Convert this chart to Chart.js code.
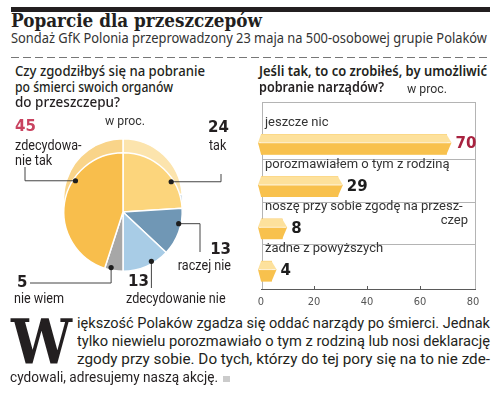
<!DOCTYPE html>
<html lang="pl">
<head>
<meta charset="utf-8">
<title>Poparcie dla przeszczepów</title>
<script src="https://cdn.jsdelivr.net/npm/chart.js@4"></script>
<style>
  body { margin: 0; width: 500px; height: 393px; position: relative; background: #fff; overflow: hidden; }
  .t { position: absolute; white-space: nowrap; transform-origin: 0 0; line-height: normal; z-index: 2; }
  .m { display: inline-block; width: 0; height: 0; vertical-align: baseline; }
  canvas { position: absolute; }
</style>
</head>
<body>
<div style="position:absolute;left:11px;top:7px;width:479px;height:5px;background:#231f20"></div>
<div style="position:absolute;left:11px;top:57px;width:479px;height:1px;background:repeating-linear-gradient(90deg,#777 0 8px,transparent 8px 12px)"></div>
<canvas id="pie" width="250" height="210" style="left:0;top:105px"></canvas>
<canvas id="bars" width="250" height="220" style="left:250px;top:95px"></canvas>
<div style="position:absolute;left:223px;top:376px;width:7px;height:6px;background:#cbcbcb"></div>

<script>
// left: pie, clockwise from 12 o'clock
const pieLabels = ['tak', 'raczej nie', 'zdecydowanie nie', 'nie wiem', 'zdecydowanie tak'];
const pieValues = [24, 13, 13, 5, 45];
const pieLines = [['tak'], ['raczej nie'], ['zdecydowanie nie'], ['nie wiem'], ['zdecydowa-', 'nie tak']];

// right: bars
const barLabels = ['jeszcze nic', 'porozmawiałem o tym z rodziną', 'noszę przy sobie zgodę na przeszczep', 'żadne z powyższych'];
const barLines = [['jeszcze nic'], ['porozmawiałem o tym z rodziną'], ['noszę przy sobie zgodę na przesz-', 'czep'], ['żadne z powyższych']];
const barValues = [70, 29, 8, 4];
const xMax = 80, xStep = 20;

const pieColors = ['#fcd57c', '#7097b5', '#a8cce6', '#a7a7a7', '#f8be4c'];
const rimColors = ['#fce4ad', '#9db9ce', '#c6def0', '#c4c4c4', '#f9d489'];
const RIM = 14, PIE_TOP = 105;

// callouts in page coords: dot position inside slice, leader path, label spots
const callouts = [
  { frac: .67, path: [['h', 221], ['v', 174]], num: [208, 128, 'left'], text: [209, 146, 'left'] },
  { frac: .33, path: [['h', 200], ['v', 252]], num: [231, 250, 'right'], text: [231, 266, 'right'] },
  { frac: .36, path: [['v', 288]], num: [128, 282, 'left'], text: [126, 299, 'left'] },
  { frac: .67, path: [['v', 283], ['h', 30]], num: [17, 283, 'left'], text: [14, 299, 'left'] },
  { frac: .65, path: [['h', 25], ['v', 167]], num: [15, 127, 'left', '#c94360'], text: [15, 146, 'left'] }
];

function say(ctx, s, x, y, align, sx) {
  ctx.save();
  ctx.translate(x, y);
  ctx.scale(sx || 1, 1);
  ctx.textAlign = align;
  ctx.fillText(s, 0, 0);
  ctx.restore();
}

const pieDeco = {
  id: 'pieDeco',
  beforeDatasetsDraw(chart) {
    const ctx = chart.ctx;
    chart.getDatasetMeta(0).data.forEach((a, i) => {
      const p = a.getProps(['x', 'y', 'startAngle', 'endAngle', 'outerRadius']);
      ctx.save();
      ctx.beginPath();
      ctx.moveTo(p.x, p.y - RIM);
      ctx.arc(p.x, p.y - RIM, p.outerRadius, p.startAngle, p.endAngle);
      ctx.closePath();
      ctx.fillStyle = rimColors[i];
      ctx.fill();
      ctx.strokeStyle = '#fff';
      ctx.lineWidth = 1.5;
      ctx.stroke();
      ctx.restore();
    });
  },
  afterDatasetsDraw(chart) {
    const ctx = chart.ctx;
    chart.getDatasetMeta(0).data.forEach((a, i) => {
      const p = a.getProps(['x', 'y', 'startAngle', 'endAngle', 'outerRadius']);
      const c = callouts[i];
      const ang = p.startAngle + c.frac * (p.endAngle - p.startAngle);
      const r = p.outerRadius * 0.96;
      let cx = p.x + r * Math.cos(ang), cy = p.y + r * Math.sin(ang);
      ctx.save();
      ctx.strokeStyle = '#444';
      ctx.lineWidth = 1;
      ctx.beginPath();
      ctx.moveTo(cx, cy);
      c.path.forEach(([dir, v]) => {
        if (dir === 'h') cx = v; else cy = v - PIE_TOP;
        ctx.lineTo(cx, cy);
      });
      ctx.stroke();
      ctx.beginPath();
      ctx.arc(p.x + r * Math.cos(ang), p.y + r * Math.sin(ang), 2.6, 0, Math.PI * 2);
      ctx.fillStyle = '#1e1e1e';
      ctx.fill();

      ctx.textBaseline = 'middle';
      ctx.fillStyle = c.num[3] || '#231f20';
      ctx.font = 'bold 15px "DejaVu Sans"';
      say(ctx, String(pieValues[i]), c.num[0], c.num[1] - PIE_TOP, c.num[2]);
      ctx.fillStyle = '#231f20';
      ctx.font = '14px Roboto';
      pieLines[i].forEach((ln, k) => say(ctx, ln, c.text[0], c.text[1] - PIE_TOP + k * 15, c.text[2], 0.9));
      ctx.restore();
    });
  }
};

new Chart(document.getElementById('pie'), {
  type: 'pie',
  data: {
    labels: pieLabels,
    datasets: [{ data: pieValues, backgroundColor: pieColors, borderColor: '#fff', borderWidth: 1.5 }]
  },
  options: {
    responsive: false, animation: false, events: [],
    layout: { padding: { left: 63, right: 67, top: 47, bottom: 43 } },
    plugins: { legend: { display: false }, tooltip: { enabled: false } }
  },
  plugins: [pieDeco]
});

function seg(ctx, x0, y0, x1, y1) {
  ctx.beginPath(); ctx.moveTo(x0, y0); ctx.lineTo(x1, y1); ctx.stroke();
}

const barDeco = {
  id: 'barDeco',
  beforeDatasetsDraw(chart) {
    const { ctx, chartArea: a, scales: { x } } = chart;
    const bars = chart.getDatasetMeta(0).data;
    ctx.save();
    ctx.lineWidth = 1;
    ctx.strokeStyle = '#b4b4b4';
    ctx.strokeRect(a.left + 1.5, a.top + 0.5, a.right - a.left + 1, a.bottom - a.top);
    bars.slice(0, -1).forEach(b => {
      const y = Math.round(b.y + 15) + 0.5;
      seg(ctx, a.left + 1.5, y, a.right + 2.5, y);
    });
    ctx.strokeStyle = '#5a5a5a';
    seg(ctx, a.left, a.bottom + 0.5, a.right + 3, a.bottom + 0.5);
    x.ticks.forEach(t => {
      const px = Math.round(x.getPixelForValue(t.value)) + 0.5;
      if (t.value > 0 && t.value < xMax) seg(ctx, px, a.bottom - 3, px, a.bottom);
    });
    ctx.restore();
  },
  afterDatasetsDraw(chart) {
    const { ctx, chartArea: a } = chart;
    chart.getDatasetMeta(0).data.forEach((b, i) => {
      const h = b.height, top = b.y - h / 2, mid = top + h * 0.42;
      const x0 = b.base, x1 = b.x;
      ctx.save();
      ctx.fillStyle = '#fde19c';
      ctx.beginPath();
      ctx.moveTo(x0 - 3, mid); ctx.lineTo(x0, top); ctx.lineTo(x1, top); ctx.lineTo(x1 + 5, mid);
      ctx.closePath(); ctx.fill();
      ctx.fillStyle = '#f8c14d';
      ctx.beginPath();
      ctx.moveTo(x0 - 3, mid); ctx.lineTo(x0, top + h); ctx.lineTo(x1, top + h); ctx.lineTo(x1 + 5, mid);
      ctx.closePath(); ctx.fill();
      ctx.strokeStyle = 'rgba(255,255,255,0.75)';
      ctx.lineWidth = 1;
      seg(ctx, x0 - 2, mid, x1 + 4, mid);

      ctx.textBaseline = 'middle';
      ctx.font = 'bold 15px "DejaVu Sans"';
      ctx.fillStyle = i === 0 ? '#a8223f' : '#1e1e1e';
      say(ctx, String(barValues[i]), x1 + 9, b.y, 'left');

      ctx.font = '13px Roboto';
      ctx.fillStyle = '#333';
      barLines[i].forEach((ln, k) => {
        if (k === 0) say(ctx, ln, a.left + 4, b.y - 22, 'left');
        else say(ctx, ln, a.right - 5, b.y - 22 + k * 14, 'right');
      });
      ctx.restore();
    });
  }
};

new Chart(document.getElementById('bars'), {
  type: 'bar',
  data: {
    labels: barLabels,
    datasets: [{
      data: barValues.map((v, i) => ({ x: v, y: i })),
      backgroundColor: '#f8c14d', borderWidth: 0, barThickness: 20
    }]
  },
  options: {
    indexAxis: 'y',
    responsive: false, animation: false, events: [],
    layout: { padding: { left: 11, right: 27, top: 7, bottom: 6 } },
    scales: {
      x: {
        type: 'linear', min: 0, max: xMax,
        ticks: { stepSize: xStep, padding: 7, color: '#555', font: { family: 'DejaVu Sans Condensed', size: 11 } },
        grid: { display: false, drawTicks: false },
        border: { display: false },
        afterFit(s) { s.height = 20; }
      },
      y: { type: 'linear', reverse: true, min: -0.725, max: 3.145, display: false }
    },
    plugins: { legend: { display: false }, tooltip: { enabled: false } }
  },
  plugins: [barDeco]
});

// page text, placed by baseline and squeezed to the measured width
function put(text, x, base, font, color, w) {
  const el = document.createElement('div');
  el.className = 't';
  el.style.font = font;
  el.style.color = color;
  el.style.left = x + 'px';
  el.style.top = '0px';
  el.textContent = text;
  const m = document.createElement('span');
  m.className = 'm';
  el.appendChild(m);
  document.body.appendChild(el);
  const r = el.getBoundingClientRect();
  el.style.top = (base - (m.getBoundingClientRect().bottom - r.top)) + 'px';
  if (w) el.style.transform = 'scaleX(' + (w / r.width) + ')';
  return el;
}

const ink = '#231f20';
put('Poparcie dla przeszczepów', 11, 27, 'bold 18px "DejaVu Serif"', ink, 251);
put('Sondaż GfK Polonia przeprowadzony 23 maja na 500-osobowej grupie Polaków', 11, 43, '14px "Noto Sans"', '#333', 476);

put('Czy zgodziłbyś się na pobranie', 15, 76, '500 15px "Noto Sans"', ink, 190);
put('po śmierci swoich organów', 15, 92, '500 15px "Noto Sans"', ink, 158);
put('do przeszczepu?', 15, 107, '500 15px "Noto Sans"', ink, 105);
put('w proc.', 105, 125, '13px Roboto', '#333', 40);

put('Jeśli tak, to co zrobiłeś, by umożliwić', 259, 76, '600 15px "Noto Sans"', ink, 228);
put('pobranie narządów?', 259, 92, '600 15px "Noto Sans"', ink, 125);
put('w proc.', 407, 93, '13px Roboto', '#333', 40);

put('W', 11, 363, 'bold 62px "DejaVu Serif"', ink, 61);
put('iększość Polaków zgadza się oddać narządy po śmierci. Jednak', 77, 328, '14.5px Roboto', ink, 413);
put('tylko niewielu porozmawiało o tym z rodziną lub nosi deklarację', 77, 346, '14.5px Roboto', ink, 413);
put('zgody przy sobie. Do tych, którzy do tej pory się na to nie zde-', 77, 364, '14.5px Roboto', ink, 413);
put('cydowali, adresujemy naszą akcję.', 10, 382, '14.5px Roboto', ink, 208);
</script>
</body>
</html>
